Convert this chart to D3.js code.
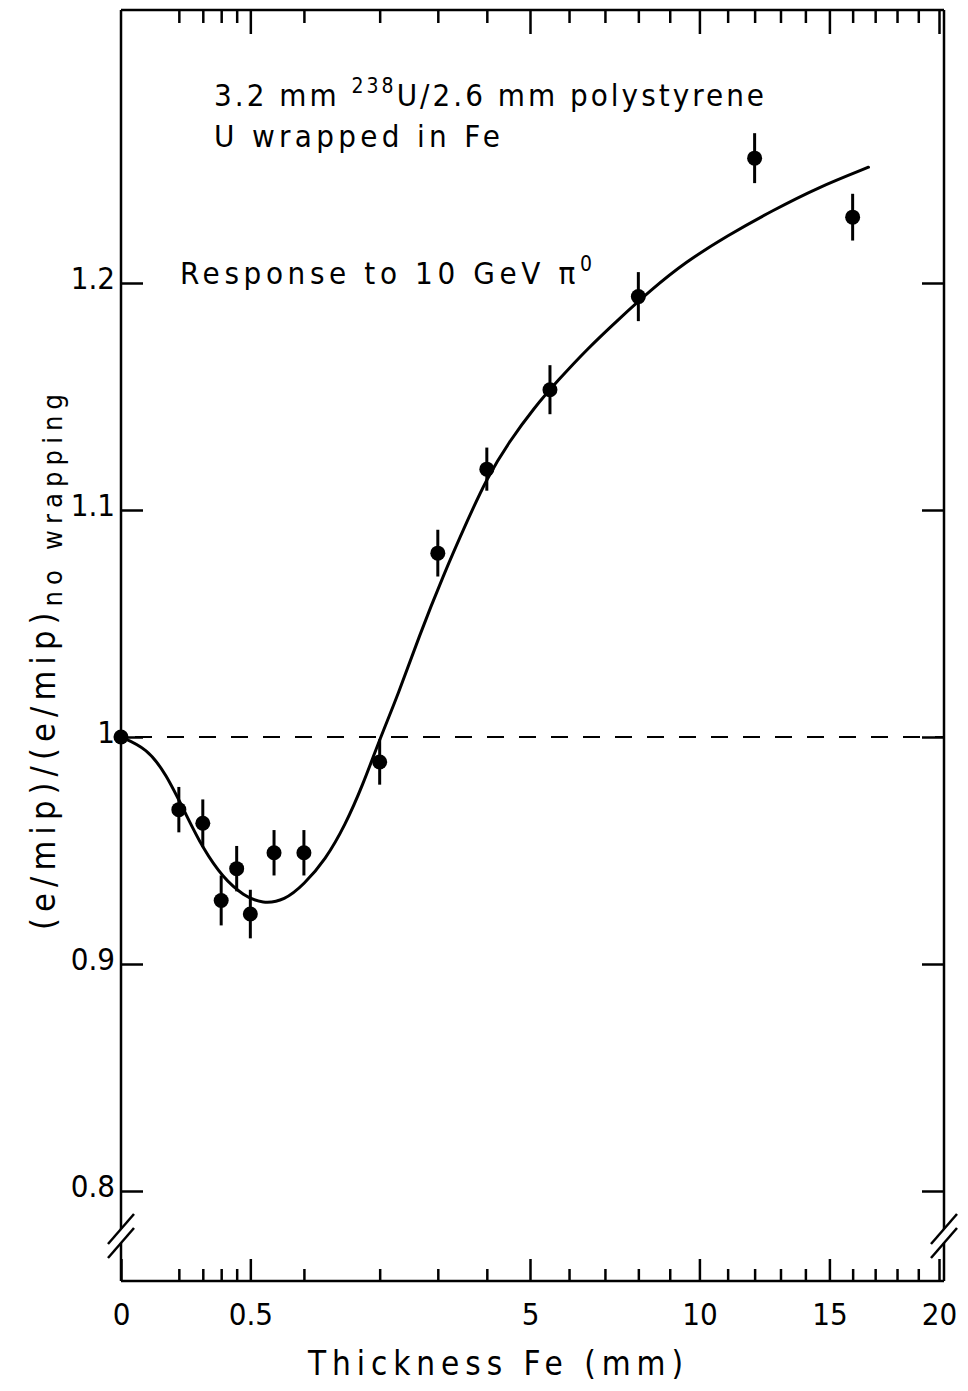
<!DOCTYPE html>
<html>
<head>
<meta charset="utf-8">
<script src="https://cdn.jsdelivr.net/npm/d3@7"></script>
<style>
  html, body { margin: 0; padding: 0; background: #fff; }
  svg text { font-family: "DejaVu Sans", sans-serif; font-stretch: condensed; fill: #000; }
</style>
</head>
<body>
<svg id="chart" width="968" height="1391"></svg>
<script>
// ---------------- data ----------------
const xMajorTicks = [0, 0.5, 5, 10, 15, 20];
const xMajorLabels = ["0", "0.5", "5", "10", "15", "20"];
const xMinorTicks = [0.1, 0.2, 0.3, 0.4, 1, 2, 3, 4, 6, 7, 8, 9, 11, 12, 13, 14, 16, 17, 18, 19];
const yTicks = [0.8, 0.9, 1.0, 1.1, 1.2];
const yTickLabels = ["0.8", "0.9", "1", "1.1", "1.2"];

// measured points: Fe thickness (mm), relative e/mip, error
const thickness = [0, 0.1, 0.2, 0.3, 0.4, 0.5, 0.7, 1, 2, 3, 4, 5.5, 8, 12, 16];
const response  = [1.000, 0.968, 0.962, 0.928, 0.942, 0.922, 0.949, 0.949, 0.989, 1.081, 1.118, 1.153, 1.194, 1.255, 1.229];
const errors    = [0, 0.010, 0.0105, 0.011, 0.010, 0.0107, 0.010, 0.010, 0.010, 0.0103, 0.0095, 0.0108, 0.0108, 0.011, 0.0103];

// fitted curve
const fitX = [0, 0.02, 0.06, 0.13, 0.2, 0.31, 0.45, 0.6, 0.8, 1.0, 1.25, 1.5, 1.75, 2.0, 2.3, 2.65, 3.1, 3.6, 4.0, 4.5, 5.1, 5.7, 6.5, 7.4, 8.4, 9.5, 11.0, 12.7, 14.5, 16.7];
const fitY = [1.000, 0.995, 0.984, 0.965, 0.951, 0.938, 0.930, 0.9265, 0.928, 0.935, 0.946, 0.961, 0.979, 0.999, 1.019, 1.044, 1.071, 1.096, 1.114, 1.130, 1.145, 1.157, 1.171, 1.184, 1.197, 1.209, 1.221, 1.232, 1.242, 1.251];

const referenceLevel = 1.0;

// ---------------- layout ----------------
const frame = { left: 121, right: 944, top: 10, bottom: 1281 };
const svg = d3.select("#chart");

const x = d3.scaleSqrt().domain([0, 20]).range([121, 939]);
const y = d3.scaleLinear().domain([0.8, 1.2]).range([1191, 283]);

// dashed reference line
svg.append("line")
  .attr("x1", x(0)).attr("x2", frame.right)
  .attr("y1", y(referenceLevel)).attr("y2", y(referenceLevel))
  .attr("stroke", "#000").attr("stroke-width", 2.2)
  .attr("stroke-dasharray", "17,15").attr("stroke-dashoffset", -14);

// fitted curve
const fitData = fitX.map((v, i) => [v, fitY[i]]);
svg.append("path")
  .datum(fitData)
  .attr("fill", "none").attr("stroke", "#000").attr("stroke-width", 3)
  .attr("stroke-linecap", "round")
  .attr("d", d3.line().x(d => x(d[0])).y(d => y(d[1])).curve(d3.curveBasis));

// points
const pts = thickness.map((t, i) => ({ t, r: response[i], e: errors[i] }));
svg.append("g").selectAll("line").data(pts.filter(d => d.e > 0)).join("line")
  .attr("x1", d => x(d.t)).attr("x2", d => x(d.t))
  .attr("y1", d => y(d.r - d.e)).attr("y2", d => y(d.r + d.e))
  .attr("stroke", "#000").attr("stroke-width", 3);
svg.append("g").selectAll("circle").data(pts).join("circle")
  .attr("cx", d => x(d.t)).attr("cy", d => y(d.r)).attr("r", 7.5)
  .attr("fill", "#000");

// ---------------- axes ----------------
const tickFont = 31;
function styleAxis(g) {
  g.select(".domain").remove();
  g.selectAll(".tick line").attr("stroke", "#000").attr("stroke-width", 2.5);
  g.selectAll(".tick text").attr("font-size", tickFont).attr("font-family", null);
}

// bottom
svg.append("g").attr("transform", `translate(0,${frame.bottom})`)
  .call(d3.axisBottom(x).tickValues(xMinorTicks).tickSize(-12).tickFormat(""))
  .call(styleAxis);
svg.append("g").attr("transform", `translate(0,${frame.bottom})`)
  .call(d3.axisBottom(x).tickValues(xMajorTicks).tickSize(-22).tickPadding(22)
        .tickFormat((d, i) => xMajorLabels[i]))
  .call(styleAxis);
// top
svg.append("g").attr("transform", `translate(0,${frame.top})`)
  .call(d3.axisTop(x).tickValues(xMinorTicks).tickSize(-13).tickFormat(""))
  .call(styleAxis);
svg.append("g").attr("transform", `translate(0,${frame.top})`)
  .call(d3.axisTop(x).tickValues(xMajorTicks.slice(1)).tickSize(-24).tickFormat(""))
  .call(styleAxis);
// left
const gl = svg.append("g").attr("transform", `translate(${frame.left},0)`)
  .call(d3.axisLeft(y).tickValues(yTicks).tickSize(-22).tickPadding(6)
        .tickFormat((d, i) => yTickLabels[i]))
  .call(styleAxis);
gl.selectAll(".tick text").attr("dy", "0.18em");
// right
svg.append("g").attr("transform", `translate(${frame.right},0)`)
  .call(d3.axisRight(y).tickValues(yTicks).tickSize(-22).tickFormat(""))
  .call(styleAxis);

// frame lines with axis breaks
const frameG = svg.append("g").attr("stroke", "#000").attr("stroke-width", 2.5).attr("fill", "none");
const brk = [1229, 1243];
frameG.append("path").attr("d",
  `M${frame.left},${frame.top}H${frame.right}` +
  `M${frame.left},${frame.bottom}H${frame.right}` +
  `M${frame.left},${frame.top}V${brk[0]}M${frame.left},${brk[1]}V${frame.bottom}` +
  `M${frame.right},${frame.top}V${brk[0]}M${frame.right},${brk[1]}V${frame.bottom}`);
[frame.left, frame.right].forEach(cx => {
  brk.forEach(cy => {
    frameG.append("line")
      .attr("x1", cx - 13).attr("y1", cy + 15)
      .attr("x2", cx + 13).attr("y2", cy - 15)
      .attr("stroke-width", 2.5);
  });
});

// ---------------- titles ----------------
svg.append("text")
  .attr("x", 308).attr("y", 1375)
  .attr("font-size", 33)
  .attr("textLength", 375).attr("lengthAdjust", "spacing")
  .text("Thickness Fe (mm)");

const yt = svg.append("text")
  .attr("transform", "translate(55,930) rotate(-90)")
  .attr("font-size", 34)
  .attr("textLength", 536).attr("lengthAdjust", "spacing");
yt.append("tspan").text("(e/mip)/(e/mip)");
yt.append("tspan").attr("font-size", 27).attr("dy", 7).text("no wrapping");

// annotation
const a1 = svg.append("text").attr("x", 214).attr("y", 106).attr("font-size", 31)
  .attr("textLength", 550).attr("lengthAdjust", "spacing");
a1.append("tspan").text("3.2 mm ");
a1.append("tspan").attr("font-size", 21).attr("dy", -13).text("238");
a1.append("tspan").attr("dy", 13).text("U/2.6 mm polystyrene");

svg.append("text").attr("x", 214).attr("y", 147).attr("font-size", 31)
  .attr("textLength", 286).attr("lengthAdjust", "spacing")
  .text("U wrapped in Fe");

const a3 = svg.append("text").attr("x", 180).attr("y", 284).attr("font-size", 31)
  .attr("textLength", 412).attr("lengthAdjust", "spacing");
a3.append("tspan").text("Response to 10 GeV \u03C0");
a3.append("tspan").attr("font-size", 21).attr("dy", -13).text("0");
</script>
</body>
</html>
